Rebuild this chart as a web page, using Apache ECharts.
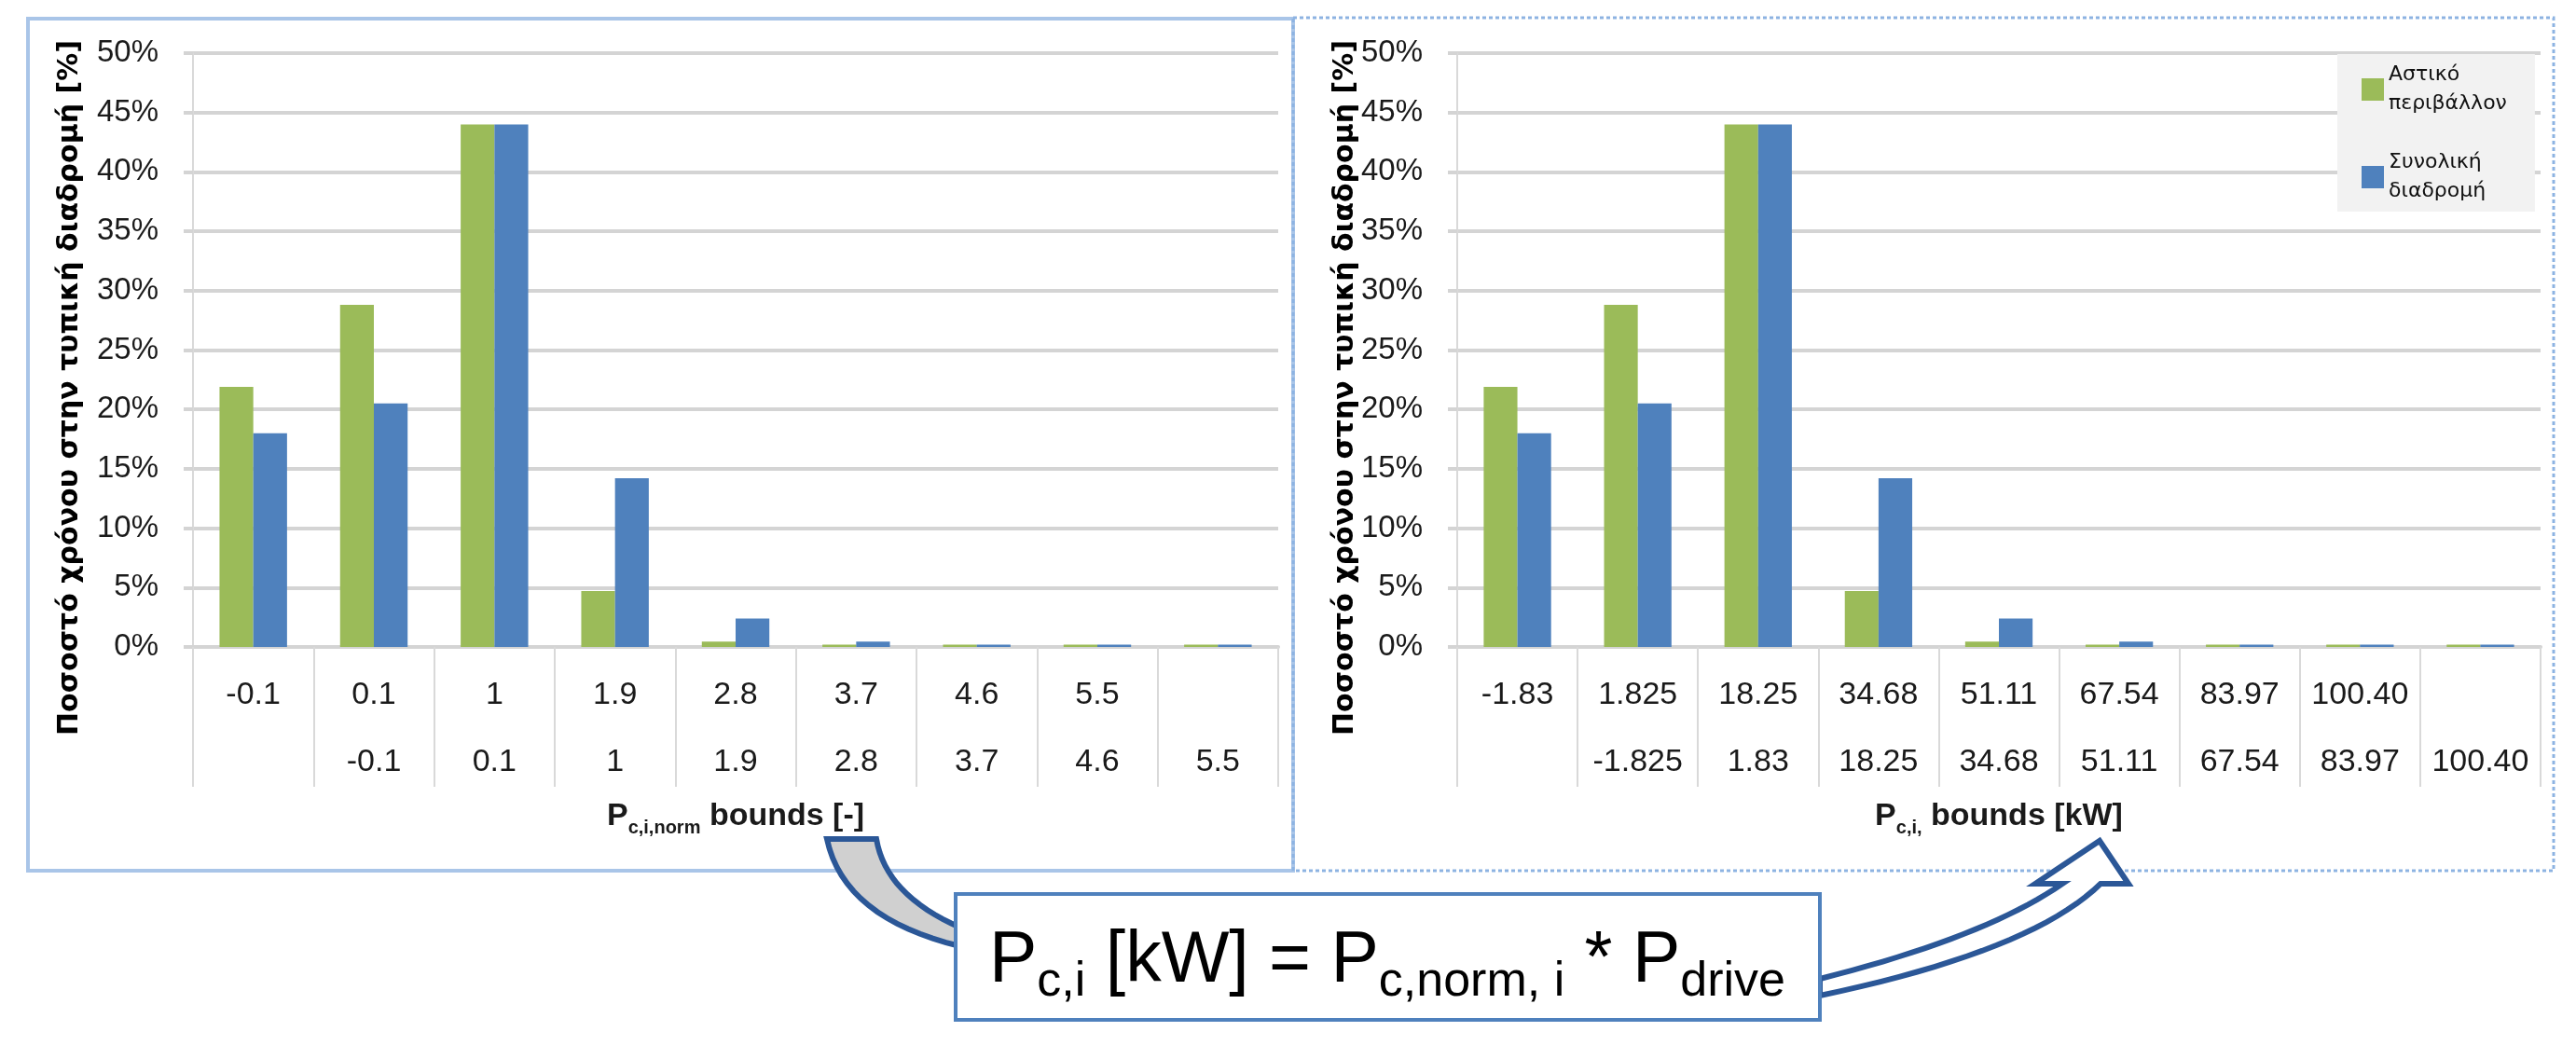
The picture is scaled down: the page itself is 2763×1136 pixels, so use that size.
<!DOCTYPE html>
<html>
<head>
<meta charset="utf-8">
<title>Pc,i bounds</title>
<script src="https://cdn.jsdelivr.net/npm/echarts@6/dist/echarts.min.js"></script>
<style>
  html, body { margin: 0; padding: 0; background: #fff; }
  #chart { width: 2763px; height: 1136px; }
</style>
</head>
<body>
<div id="chart"></div>
<script>
// bin bounds, upper row and lower row of the category labels
var normUpper = ['-0.1', '0.1', '1', '1.9', '2.8', '3.7', '4.6', '5.5', ''];
var normLower = ['', '-0.1', '0.1', '1', '1.9', '2.8', '3.7', '4.6', '5.5'];
var kwUpper = ['-1.83', '1.825', '18.25', '34.68', '51.11', '67.54', '83.97', '100.40', ''];
var kwLower = ['', '-1.825', '1.83', '18.25', '34.68', '51.11', '67.54', '83.97', '100.40'];

// share of time in the typical route [%]
var urbanShare = [21.9, 28.8, 44.0, 4.7, 0.45, 0.2, 0.2, 0.2, 0.2];
var totalShare = [18.0, 20.5, 44.0, 14.2, 2.4, 0.45, 0.2, 0.2, 0.2];

var seriesNames = ['Αστικό\nπεριβάλλον', 'Συνολική\nδιαδρομή'];
var yTitle = 'Ποσοστό χρόνου στην τυπική διαδρομή [%]';

var GREEN = '#9bbb59';
var BLUE = '#4f81bd';
var GRID_GREY = '#d4d4d4';
var FONT = 'Liberation Sans';

function binLabels(up, low) {
  return up.map(function (u, i) {
    return (u || ' ') + '\n' + (low[i] || ' ');
  });
}

// points along a quadratic curve, for the arrow outlines
function quad(p0, c, p1, n) {
  var pts = [];
  for (var k = 0; k <= n; k++) {
    var t = k / n, a = (1 - t) * (1 - t), b = 2 * t * (1 - t), d = t * t;
    pts.push([a * p0[0] + b * c[0] + d * p1[0], a * p0[1] + b * c[1] + d * p1[1]]);
  }
  return pts;
}

function makeXAxis(gridIndex, labels, sub) {
  return {
    type: 'category',
    gridIndex: gridIndex,
    data: labels,
    axisLine: { lineStyle: { color: GRID_GREY, width: 4 } },
    axisTick: { show: true, interval: 0, length: 150, lineStyle: { color: '#d9d9d9', width: 2 } },
    axisLabel: { interval: 0, margin: 16, fontSize: 34, lineHeight: 72, color: '#1a1a1a', fontFamily: FONT },
    name: '{p|P}{s|' + sub.s + '}{b|' + sub.b + '}',
    nameLocation: 'middle',
    nameGap: 160,
    nameTextStyle: {
      rich: {
        p: { fontSize: 34, fontWeight: 'bold', fontFamily: FONT, color: '#1a1a1a', lineHeight: 44 },
        s: { fontSize: 20, fontWeight: 'bold', fontFamily: FONT, color: '#1a1a1a', lineHeight: 44, verticalAlign: 'bottom' },
        b: { fontSize: 34, fontWeight: 'bold', fontFamily: FONT, color: '#1a1a1a', lineHeight: 44 }
      }
    }
  };
}

function makeYAxis(gridIndex) {
  return {
    type: 'value',
    gridIndex: gridIndex,
    min: 0,
    max: 50,
    interval: 5,
    axisLine: { show: true, lineStyle: { color: '#d9d9d9', width: 2 } },
    axisTick: { show: true, length: 10, lineStyle: { color: GRID_GREY, width: 4 } },
    axisLabel: { formatter: '{value}%', fontSize: 33, margin: 37, color: '#1a1a1a', fontFamily: FONT },
    splitLine: { lineStyle: { color: GRID_GREY, width: 4 } }
  };
}

function makeBar(name, data, idx, color) {
  return {
    name: name,
    type: 'bar',
    xAxisIndex: idx,
    yAxisIndex: idx,
    data: data,
    barGap: '0%',
    barCategoryGap: '44%',
    z: 3,
    itemStyle: { color: color }
  };
}

var leftArrow = [[887, 900], [940, 900]]
  .concat(quad([940, 900], [950, 960], [1030, 995], 16))
  .concat(quad([1030, 1015], [905, 985], [887, 900], 16));

var rightArrow = quad([1952, 1050], [2130, 1005], [2212, 948], 20)
  .concat([[2183, 948], [2252, 902], [2283, 948], [2253, 948]])
  .concat(quad([2253, 948], [2180, 1020], [1952, 1068], 20));

var chart = echarts.init(document.getElementById('chart'));

chart.setOption({
  backgroundColor: '#fff',
  animation: false,
  grid: [
    { left: 207, top: 57, width: 1164, height: 637 },
    { left: 1563, top: 57, width: 1162, height: 637 }
  ],
  legend: {
    data: seriesNames,
    orient: 'vertical',
    left: 2507,
    top: 58,
    padding: [7, 30, 6, 26],
    itemGap: 32,
    itemWidth: 24,
    itemHeight: 24,
    icon: 'rect',
    backgroundColor: '#f2f2f2',
    textStyle: { fontFamily: 'DejaVu Sans', fontSize: 22, lineHeight: 31, color: '#111' }
  },
  xAxis: [
    makeXAxis(0, binLabels(normUpper, normLower), { s: 'c,i,norm', b: ' bounds [-]' }),
    makeXAxis(1, binLabels(kwUpper, kwLower), { s: 'c,i,', b: ' bounds [kW]' })
  ],
  yAxis: [makeYAxis(0), makeYAxis(1)],
  series: [
    makeBar(seriesNames[0], urbanShare, 0, GREEN),
    makeBar(seriesNames[1], totalShare, 0, BLUE),
    makeBar(seriesNames[0], urbanShare, 1, GREEN),
    makeBar(seriesNames[1], totalShare, 1, BLUE)
  ],
  graphic: [
    // panel frames
    { type: 'rect', z: 0, shape: { x: 30, y: 20, width: 1357, height: 914 },
      style: { fill: null, stroke: '#a9c5e8', lineWidth: 4 } },
    { type: 'rect', z: 0, shape: { x: 1387, y: 19, width: 1352, height: 915 },
      style: { fill: null, stroke: '#8db3e2', lineWidth: 3, lineDash: [4, 3] } },
    // y axis titles
    { type: 'text', x: 75, y: 416, rotation: Math.PI / 2, z: 5,
      style: { text: yTitle, fill: '#000', font: 'bold 30px "DejaVu Sans"', align: 'center', verticalAlign: 'middle' } },
    { type: 'text', x: 1443, y: 416, rotation: Math.PI / 2, z: 5,
      style: { text: yTitle, fill: '#000', font: 'bold 30px "DejaVu Sans"', align: 'center', verticalAlign: 'middle' } },
    // curved arrows
    { type: 'polygon', z: 10, shape: { points: leftArrow },
      style: { fill: '#d0d0d0', stroke: '#2b5797', lineWidth: 6, lineJoin: 'miter' } },
    { type: 'polygon', z: 10, shape: { points: rightArrow },
      style: { fill: '#fff', stroke: '#2b5797', lineWidth: 6, lineJoin: 'miter' } },
    // formula box
    { type: 'rect', z: 11, shape: { x: 1025, y: 959, width: 927, height: 135 },
      style: { fill: '#fff', stroke: '#4f81bd', lineWidth: 4 } },
    { type: 'text', z: 12, x: 1488, y: 1032,
      style: {
        text: '{p|P}{s|c,i}{p| [kW] = P}{s|c,norm, i}{p| * P}{s|drive}',
        align: 'center',
        verticalAlign: 'middle',
        rich: {
          p: { fontSize: 77, fontFamily: FONT, fill: '#000', lineHeight: 96 },
          s: { fontSize: 52, fontFamily: FONT, fill: '#000', lineHeight: 96, verticalAlign: 'bottom' }
        }
      } }
  ]
});
</script>
</body>
</html>
